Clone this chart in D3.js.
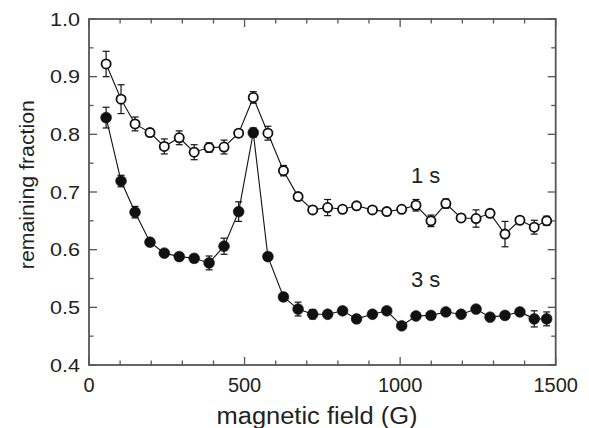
<!DOCTYPE html>
<html>
<head>
<meta charset="utf-8">
<script src="https://cdn.jsdelivr.net/npm/d3@7/dist/d3.min.js"></script>
<style>
  html, body { margin: 0; padding: 0; background: #fff; }
  svg { display: block; }
  text { font-family: "Liberation Sans", Arial, Helvetica, sans-serif; fill: #222; }
</style>
</head>
<body>
<svg id="chart" width="589" height="428"></svg>
<script>
// magnetic field (G)
const field = [55, 103, 148, 196, 242, 290, 338, 386, 434, 481, 528, 575, 625, 672, 719, 767,
               815, 860, 911, 957, 1005, 1051, 1099, 1147, 1196, 1244, 1289, 1337, 1385, 1431, 1471];
// remaining fraction after 1 s (open circles)
const frac1s = [0.922, 0.861, 0.818, 0.803, 0.779, 0.794, 0.769, 0.777, 0.778, 0.802, 0.864, 0.802,
                0.737, 0.692, 0.669, 0.673, 0.670, 0.676, 0.669, 0.666, 0.670, 0.677, 0.650, 0.680,
                0.655, 0.654, 0.663, 0.627, 0.651, 0.639, 0.650];
const err1s = [0.022, 0.025, 0.012, 0.006, 0.013, 0.012, 0.013, 0.008, 0.012, 0.006, 0.010, 0.012,
               0.009, 0.006, 0.006, 0.014, 0.005, 0.005, 0.005, 0.005, 0.005, 0.010, 0.010, 0.008,
               0.006, 0.015, 0.006, 0.022, 0.005, 0.012, 0.008];
// remaining fraction after 3 s (filled circles)
const frac3s = [0.829, 0.719, 0.665, 0.613, 0.594, 0.588, 0.585, 0.577, 0.606, 0.666, 0.803, 0.588,
                0.518, 0.497, 0.488, 0.488, 0.494, 0.480, 0.488, 0.494, 0.468, 0.485, 0.486, 0.492,
                0.488, 0.497, 0.483, 0.486, 0.492, 0.480, 0.480];
const err3s = [0.018, 0.010, 0.010, 0.006, 0.005, 0.006, 0.005, 0.012, 0.014, 0.017, 0.008, 0.006,
               0.006, 0.012, 0.008, 0.005, 0.005, 0.005, 0.005, 0.005, 0.005, 0.005, 0.005, 0.005,
               0.005, 0.005, 0.005, 0.005, 0.005, 0.014, 0.012];

const xTicks = [0, 500, 1000, 1500];
const xMinor = d3.range(0, 1501, 100);
const yTicks = [0.4, 0.5, 0.6, 0.7, 0.8, 0.9, 1.0];
const yMinor = d3.range(0.40, 1.001, 0.05);
const labels = [{text: "1 s", x: 1035, y: 0.715}, {text: "3 s", x: 1035, y: 0.536}];

const svg = d3.select("#chart");
const L = 89, R = 555.7, T = 19, B = 365;
const x = d3.scaleLinear().domain([0, 1500]).range([L, R]);
const y = d3.scaleLinear().domain([0.4, 1.0]).range([B, T]);
const axisColor = "#555";

// frame
svg.append("rect").attr("x", L).attr("y", T).attr("width", R - L).attr("height", B - T)
  .attr("fill", "none").attr("stroke", axisColor).attr("stroke-width", 1.8);

// ticks (inward, all four sides)
const tickG = svg.append("g").attr("stroke", axisColor).attr("stroke-width", 1.3);
xMinor.forEach(v => {
  const major = v % 500 === 0;
  const len = major ? 8 : 4.5;
  tickG.append("line").attr("x1", x(v)).attr("x2", x(v)).attr("y1", B).attr("y2", B - len);
  tickG.append("line").attr("x1", x(v)).attr("x2", x(v)).attr("y1", T).attr("y2", T + len);
});
yMinor.forEach(v => {
  const major = Math.abs(v * 10 - Math.round(v * 10)) < 1e-6;
  const len = major ? 8 : 4.5;
  tickG.append("line").attr("y1", y(v)).attr("y2", y(v)).attr("x1", L).attr("x2", L + len);
  tickG.append("line").attr("y1", y(v)).attr("y2", y(v)).attr("x1", R).attr("x2", R - len);
});

// tick labels
svg.append("g").selectAll("text").data(xTicks).join("text")
  .attr("x", d => x(d)).attr("y", B + 26.5)
  .attr("text-anchor", "middle").attr("font-size", 20)
  .text(d => d);
svg.append("g").selectAll("text").data(yTicks).join("text")
  .attr("x", 80).attr("y", d => y(d) + 6.5)
  .attr("text-anchor", "end").attr("font-size", 19)
  .attr("textLength", 30).attr("lengthAdjust", "spacingAndGlyphs")
  .text(d => d.toFixed(1));

// axis titles
svg.append("text").attr("x", 317).attr("y", 423.5).attr("text-anchor", "middle")
  .attr("font-size", 23).attr("textLength", 201).attr("lengthAdjust", "spacingAndGlyphs")
  .text("magnetic field (G)");
svg.append("text").attr("transform", "translate(33.5,184.7) rotate(-90)")
  .attr("text-anchor", "middle").attr("font-size", 21)
  .attr("textLength", 169).attr("lengthAdjust", "spacingAndGlyphs")
  .text("remaining fraction");

// series
const series = [
  {vals: frac1s, errs: err1s, fill: "#fff"},
  {vals: frac3s, errs: err3s, fill: "#111"}
];
const line = d3.line().x(d => x(d[0])).y(d => y(d[1]));
series.forEach(s => {
  const pts = field.map((f, i) => [f, s.vals[i], s.errs[i]]);
  svg.append("path").datum(pts).attr("d", line)
    .attr("fill", "none").attr("stroke", "#111").attr("stroke-width", 1.1);
  const eg = svg.append("g").attr("stroke", "#111").attr("stroke-width", 1.2);
  pts.forEach(p => {
    const cx = x(p[0]), y1 = y(p[1] + p[2]), y2 = y(p[1] - p[2]);
    eg.append("line").attr("x1", cx).attr("x2", cx).attr("y1", y1).attr("y2", y2);
    eg.append("line").attr("x1", cx - 3.5).attr("x2", cx + 3.5).attr("y1", y1).attr("y2", y1);
    eg.append("line").attr("x1", cx - 3.5).attr("x2", cx + 3.5).attr("y1", y2).attr("y2", y2);
  });
  svg.append("g").selectAll("circle").data(pts).join("circle")
    .attr("cx", d => x(d[0])).attr("cy", d => y(d[1]))
    .attr("r", s.fill === "#fff" ? 4.6 : 5.4)
    .attr("fill", s.fill).attr("stroke", "#111").attr("stroke-width", s.fill === "#fff" ? 1.8 : 0.6);
});

// series labels
svg.append("g").selectAll("text").data(labels).join("text")
  .attr("x", d => x(d.x)).attr("y", d => y(d.y))
  .attr("font-size", 22).text(d => d.text);
</script>
</body>
</html>
